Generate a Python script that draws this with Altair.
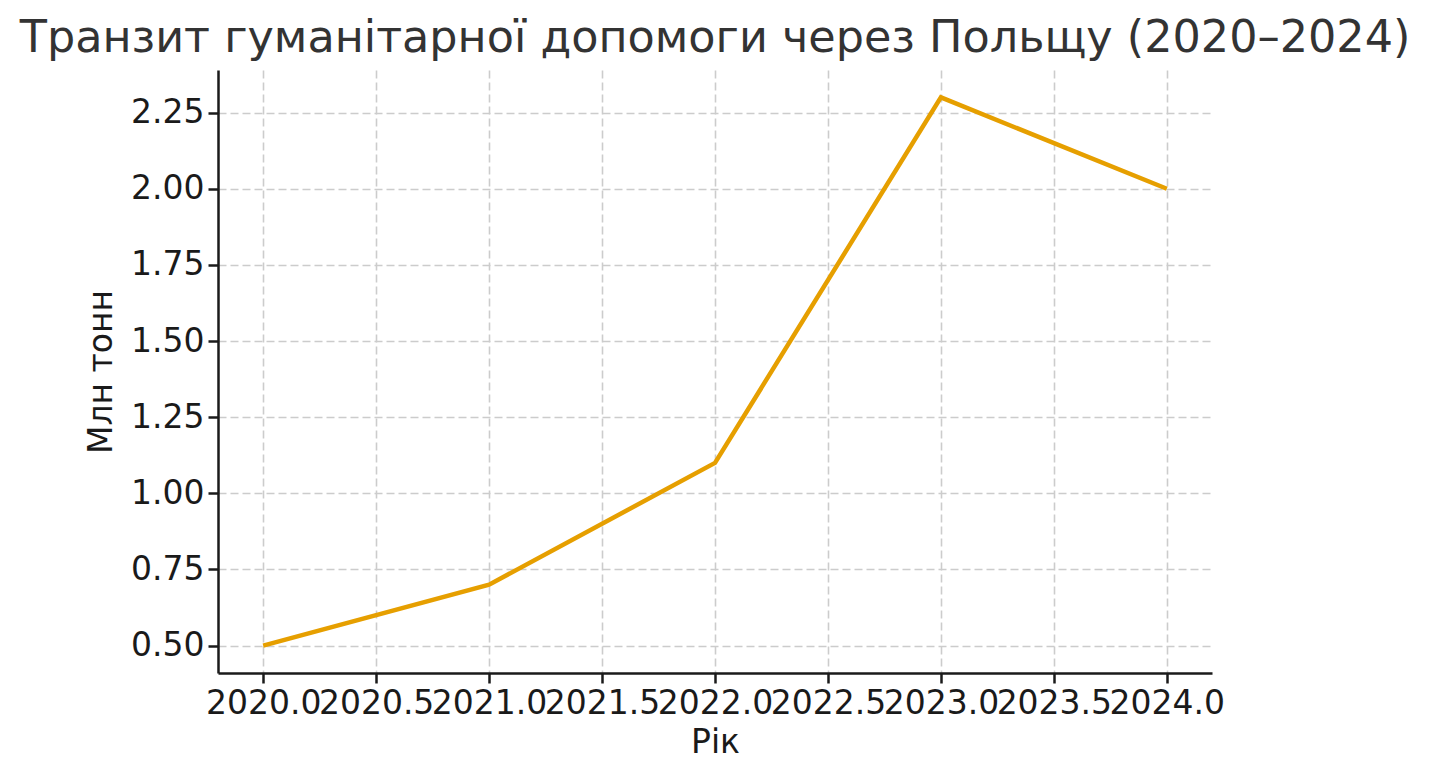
import altair as alt
import pandas as pd

years = [2020, 2021, 2022, 2023, 2024]
values = [0.5, 0.7, 1.1, 2.3, 2.0]
x_ticks = [2020.0, 2020.5, 2021.0, 2021.5, 2022.0, 2022.5, 2023.0, 2023.5, 2024.0]
y_ticks = [0.5, 0.75, 1.0, 1.25, 1.5, 1.75, 2.0, 2.25]

df = pd.DataFrame({"year": years, "value": values})

FONT = "DejaVu Sans"

chart = alt.Chart(df).mark_line(color="#E69F00", strokeWidth=4.5).encode(
    x=alt.X("year:Q", title="Рік",
            scale=alt.Scale(domain=[2019.8, 2024.2], nice=False, zero=False),
            axis=alt.Axis(values=x_ticks, format=".1f", labelFlush=False, labelOverlap=False)),
    y=alt.Y("value:Q", title="Млн тонн",
            scale=alt.Scale(domain=[0.41, 2.39], nice=False, zero=False),
            axis=alt.Axis(values=y_ticks, format=".2f", labelOverlap=False)),
).properties(
    width=994, height=603,
    title=alt.TitleParams("Транзит гуманітарної допомоги через Польщу (2020–2024)",
                          font=FONT, fontSize=44.5, fontWeight="normal", color="#333333",
                          anchor="middle", offset=9),
    autosize=alt.AutoSizeParams(type="none"),
    padding={"left": 210, "top": 62, "right": 200, "bottom": 95},
).configure_view(stroke=None).configure_axis(
    labelFont=FONT, labelFontSize=33, labelColor="#1a1a1a",
    titleFont=FONT, titleFontSize=33, titleFontWeight="normal", titleColor="#1a1a1a",
    domainColor="#1a1a1a", domainWidth=2.5, tickColor="#1a1a1a", tickWidth=2.5, tickSize=10,
    labelPadding=4,
    grid=True, gridColor="#cccccc", gridWidth=1.6, gridDash=[8, 4],
).configure_axisX(titlePadding=6).configure_axisY(titlePadding=12)

chart.save("out.html", embed_options={"renderer": "svg", "actions": False})
